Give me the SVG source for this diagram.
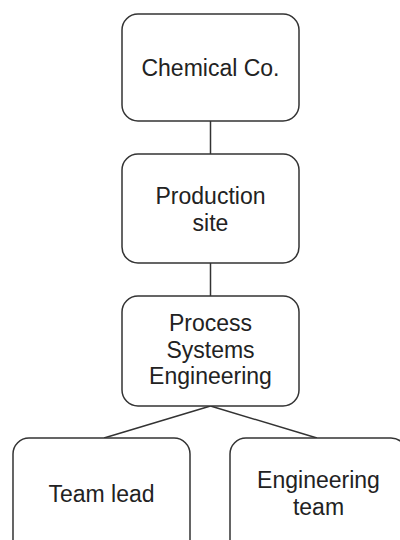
<svg xmlns="http://www.w3.org/2000/svg" width="400" height="540" viewBox="0 0 400 540">
<style>
.box{fill:#fff;stroke:#333;stroke-width:1.5}
.lbl{font-family:"Liberation Sans",Arial,sans-serif;font-size:23px;fill:#222;text-anchor:middle}
.conn{stroke:#333;stroke-width:1.5;fill:none}
</style>
<rect width="400" height="540" fill="#fff"/>
<g id="connectors">
<line class="conn" x1="210.5" y1="121" x2="210.5" y2="154"/>
<line class="conn" x1="210.5" y1="263" x2="210.5" y2="296"/>
<line class="conn" x1="210.5" y1="406" x2="104" y2="438"/>
<line class="conn" x1="210.5" y1="406" x2="317" y2="438"/>
</g>
<g id="chemical">
<rect class="box" x="122" y="14" width="177" height="107" rx="16"/>
<text class="lbl" x="210.5" y="76">Chemical Co.</text>
</g>
<g id="production">
<rect class="box" x="122" y="154" width="177" height="109" rx="16"/>
<text class="lbl" x="210.5" y="204">Production</text>
<text class="lbl" x="210.5" y="231">site</text>
</g>
<g id="pse">
<rect class="box" x="122" y="296" width="177" height="110" rx="16"/>
<text class="lbl" x="210.5" y="331">Process</text>
<text class="lbl" x="210.5" y="358">Systems</text>
<text class="lbl" x="210.5" y="384">Engineering</text>
</g>
<g id="teamlead">
<rect class="box" x="13" y="438" width="177" height="120" rx="16"/>
<text class="lbl" x="101.5" y="502">Team lead</text>
</g>
<g id="engteam">
<rect class="box" x="230" y="438" width="177" height="120" rx="16"/>
<text class="lbl" x="318.5" y="488">Engineering</text>
<text class="lbl" x="318.5" y="515">team</text>
</g>
</svg>
